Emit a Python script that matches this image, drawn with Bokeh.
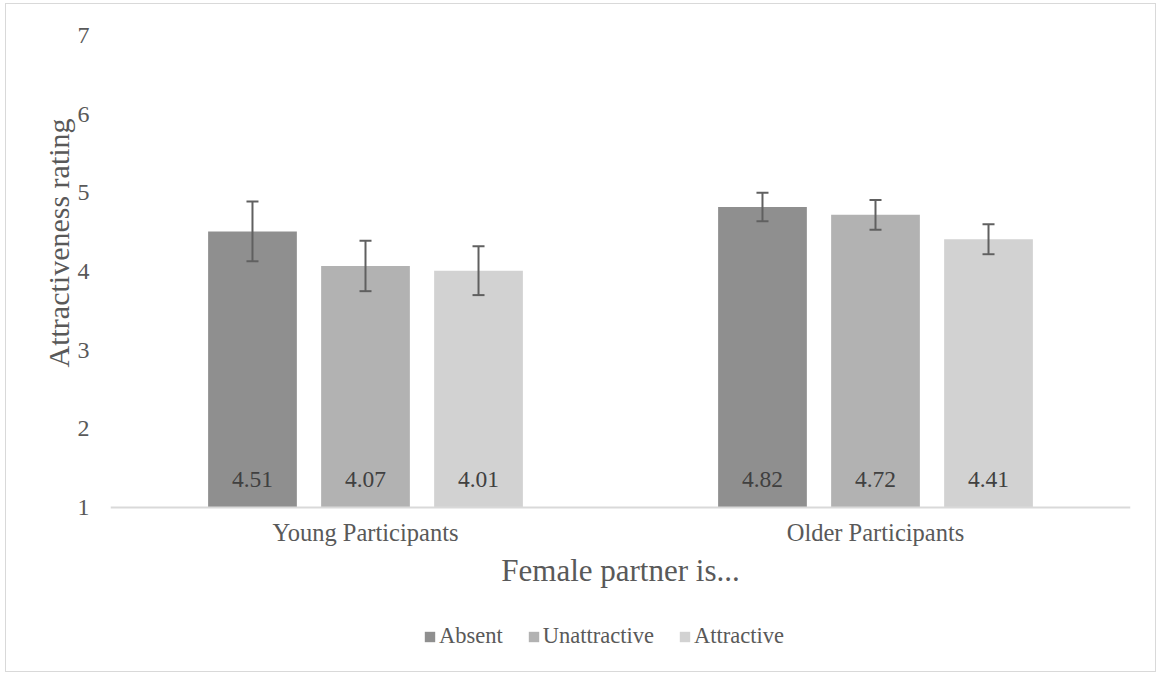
from bokeh.plotting import figure
from bokeh.models import (ColumnDataSource, Range1d, FactorRange, Whisker, TeeHead,
                          Legend, LegendItem, Title, FixedTicker)
from bokeh.transform import dodge
from bokeh.core.properties import value
from bokeh.embed import file_html
from bokeh.resources import INLINE

# ---- data ----
categories = ["Young Participants", "Older Participants"]
series = ["Absent", "Unattractive", "Attractive"]
absent = [4.51, 4.82]
unattractive = [4.07, 4.72]
attractive = [4.01, 4.41]
absent_err = [0.38, 0.18]
unattractive_err = [0.32, 0.19]
attractive_err = [0.31, 0.19]
y_ticks = [1, 2, 3, 4, 5, 6, 7]

FONT = "Liberation Serif"
colors = ["#8f8f8f", "#b2b2b2", "#d2d2d2"]
offsets = [-0.2216, 0.0, 0.2216]
bar_w = 0.174
Y_BASE = 1
Y_LOW = -1.11   # frame extends below the axis to hold the legend

p = figure(x_range=FactorRange(*categories, range_padding=0),
           y_range=Range1d(Y_LOW, 7),
           width=1151, height=669,
           output_backend="svg", toolbar_location=None,
           min_border_left=104, min_border_right=27,
           min_border_top=31, min_border_bottom=0,
           styles={"border": "1px solid #d9d9d9", "margin-left": "5px", "margin-top": "3px"})
p.outline_line_color = None
p.xgrid.grid_line_color = None
p.ygrid.grid_line_color = None

vals = [absent, unattractive, attractive]
errs = [absent_err, unattractive_err, attractive_err]
renderers = []
for s, v, e, c, off in zip(series, vals, errs, colors, offsets):
    src = ColumnDataSource(dict(
        cat=categories, val=v, base=[Y_BASE] * len(v),
        upper=[a + b for a, b in zip(v, e)],
        lower=[a - b for a, b in zip(v, e)],
        lab=["%.2f" % a for a in v]))
    xd = dodge("cat", off, range=p.x_range)
    r = p.vbar(x=xd, top="val", bottom="base", width=bar_w, source=src,
               fill_color=c, line_color=None)
    renderers.append(r)
    w = Whisker(base=xd, upper="upper", lower="lower", source=src,
                line_color="#606060", line_width=2, level="overlay",
                upper_head=TeeHead(size=12, line_color="#606060", line_width=2),
                lower_head=TeeHead(size=12, line_color="#606060", line_width=2))
    p.add_layout(w)
    p.text(x=xd, y="base", text="lab", source=src, text_align="center",
           text_baseline="alphabetic", y_offset=-28, text_color="#404040",
           text_font=value(FONT), text_font_size="23.5px")

# axes
p.yaxis.ticker = FixedTicker(ticks=y_ticks)
p.yaxis.axis_line_color = None
p.yaxis.major_tick_line_color = None
p.yaxis.minor_tick_line_color = None
p.yaxis.major_label_standoff = 15
p.yaxis.major_label_text_font = FONT
p.yaxis.major_label_text_font_size = "24px"
p.yaxis.major_label_text_color = "#595959"

p.xaxis.fixed_location = Y_BASE
p.xaxis.axis_line_color = "#d9d9d9"
p.xaxis.axis_line_width = 2
p.xaxis.major_tick_line_color = None
p.xaxis.minor_tick_line_color = None
p.xaxis.major_label_standoff = 5
p.xaxis.major_label_text_font = FONT
p.xaxis.major_label_text_font_size = "24.5px"
p.xaxis.major_label_text_color = "#595959"
p.xaxis.axis_label = "Female partner is..."
p.xaxis.axis_label_standoff = 4
p.xaxis.axis_label_text_font = FONT
p.xaxis.axis_label_text_font_size = "31px"
p.xaxis.axis_label_text_font_style = "normal"
p.xaxis.axis_label_text_color = "#595959"

p.add_layout(Title(text="Attractiveness rating", align="left", offset=306,
                   text_font=FONT, text_font_size="30px", text_font_style="normal",
                   text_color="#595959", standoff=0), "left")

legend = Legend(items=[LegendItem(label=s, renderers=[r]) for s, r in zip(series, renderers)],
                orientation="horizontal", location=(313, 24),
                glyph_width=13, glyph_height=13, label_height=24,
                label_standoff=3, spacing=24, padding=0, margin=0,
                border_line_color=None, background_fill_alpha=0,
                label_text_font=FONT, label_text_font_size="22.5px",
                label_text_color="#595959")
p.add_layout(legend)

open("out.html", "w").write(file_html(p, INLINE))
